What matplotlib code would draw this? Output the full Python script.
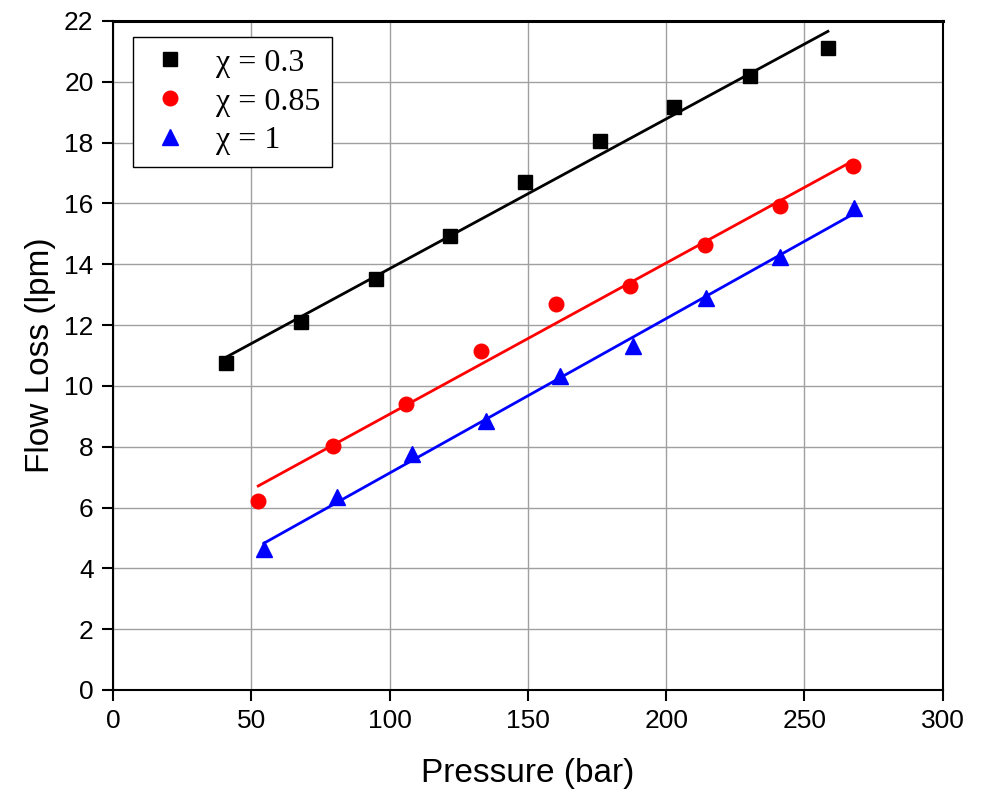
import numpy as np
import matplotlib.pyplot as plt
from matplotlib import font_manager

# Measured flow loss vs. pressure for three displacement ratios
labels = ["χ = 0.3", "χ = 0.85", "χ = 1"]

p_03 = [41, 68, 95, 122, 149, 176, 203, 230.5, 258.5]
q_03 = [10.75, 12.1, 13.5, 14.93, 16.7, 18.05, 19.17, 20.19, 21.11]

p_085 = [52.5, 79.5, 106, 133, 160, 187, 214, 241, 267.5]
q_085 = [6.22, 8.02, 9.40, 11.15, 12.68, 13.27, 14.63, 15.90, 17.23]

p_1 = [54.5, 81, 108, 135, 161.5, 188, 214.5, 241, 268]
q_1 = [4.63, 6.36, 7.75, 8.85, 10.33, 11.31, 12.9, 14.24, 15.85]

x_ticks = [0, 50, 100, 150, 200, 250, 300]
y_ticks = list(range(0, 23, 2))

names = {f.name for f in font_manager.fontManager.ttflist}
sans = "Liberation Sans Narrow" if "Liberation Sans Narrow" in names else "Liberation Sans"
plt.rcParams["font.family"] = [sans, "DejaVu Sans"]

fig = plt.figure(figsize=(9.83, 7.94), dpi=100)
ax = fig.add_axes([0.115, 0.131, 0.844, 0.8426])

series = [
    (p_03, q_03, "black", "s", 10),
    (p_085, q_085, "red", "o", 10.5),
    (p_1, q_1, "blue", "^", 12),
]
for (px, qy, col, mk, ms), lab in zip(series, labels):
    ax.plot(px, qy, linestyle="none", marker=mk, color=col, markersize=ms, label=lab, zorder=3)
    k, b = np.polyfit(px, qy, 1)
    xs = np.array([min(px), max(px)])
    ax.plot(xs, k * xs + b, color=col, lw=2, zorder=2)

ax.set_xlim(0, 300)
ax.set_ylim(0, 22)
ax.set_xticks(x_ticks)
ax.set_yticks(y_ticks)
ax.grid(True, color="#a0a0a0", lw=1)
ax.set_axisbelow(True)
ax.tick_params(direction="out", length=8, width=1.5, labelsize=19, pad=6,
               top=False, right=False)
for s in ax.spines.values():
    s.set_linewidth(1.5)
ax.spines["top"].set_linewidth(2.2)

ax.set_xlabel("Pressure (bar)", fontsize=24, labelpad=18)
ax.set_ylabel("Flow Loss (lpm)", fontsize=24, labelpad=6)

leg = ax.legend(loc="upper left", bbox_to_anchor=(0.024, 0.976), frameon=True,
                fancybox=False, edgecolor="black", framealpha=1,
                prop={"family": ["Liberation Serif", "DejaVu Serif"], "size": 23},
                handlelength=1.6, handletextpad=0.65, borderpad=0.35,
                labelspacing=0.3, borderaxespad=0)
leg.get_frame().set_linewidth(1.0)

fig.savefig("out.png", dpi=100)
